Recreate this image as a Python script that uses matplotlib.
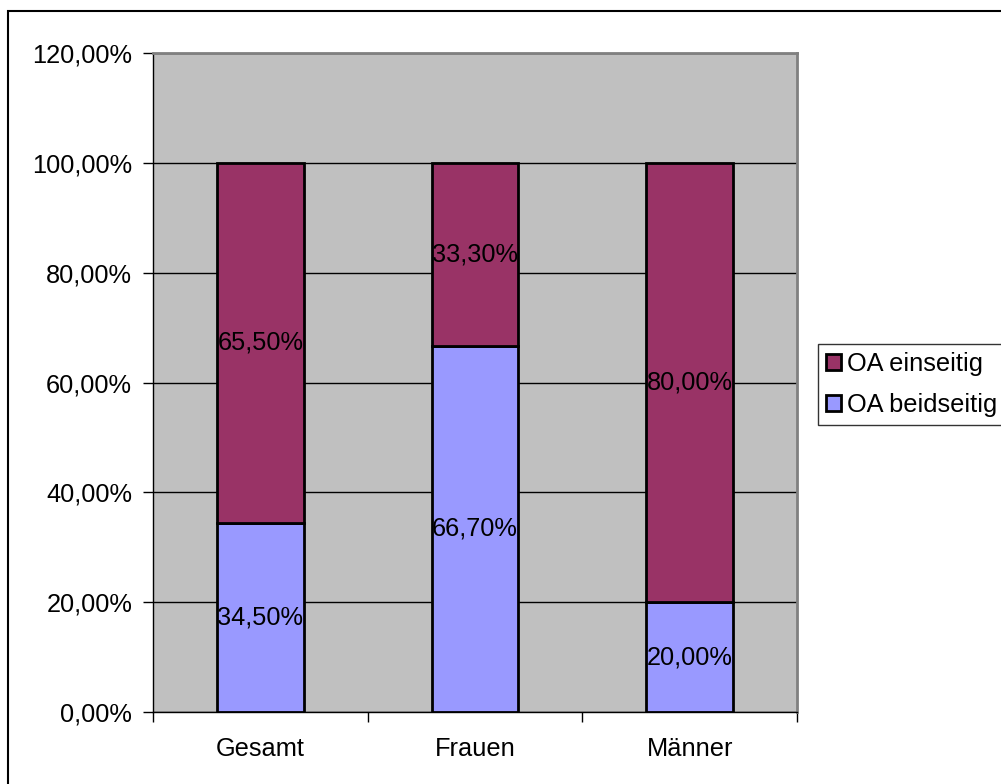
import matplotlib.pyplot as plt
from matplotlib.patches import Rectangle, Patch
from matplotlib.ticker import FixedLocator

plt.rcParams['font.family'] = ['Liberation Sans', 'DejaVu Sans']

# Data
categories = ['Gesamt', 'Frauen', 'Männer']
beidseitig = [34.5, 66.7, 20.0]
einseitig = [65.5, 33.3, 80.0]
y_ticks = [0, 20, 40, 60, 80, 100, 120]

c_beid = '#9999FF'
c_ein = '#993366'
fs = 18.3

W, H = 1001, 784
fig = plt.figure(figsize=(W / 100, H / 100), dpi=100)

# outer chart border
fig.patches.append(Rectangle((8 / W, -0.05), 1.1, 1 - 11 / H + 0.05,
                             transform=fig.transFigure, fill=False,
                             edgecolor='black', linewidth=1.5))

ax = fig.add_axes([153 / W, (H - 712) / H, (797 - 153) / W, (712 - 53) / H])
ax.set_facecolor('#C0C0C0')

x = range(len(categories))
bw = 0.405
ax.bar(x, beidseitig, bw, color=c_beid, edgecolor='black', linewidth=2, zorder=3)
ax.bar(x, einseitig, bw, bottom=beidseitig, color=c_ein, edgecolor='black',
       linewidth=2, zorder=3)

fmt = lambda v: f'{v:.2f}%'.replace('.', ',')
for i in x:
    ax.text(i, beidseitig[i] / 2, fmt(beidseitig[i]), ha='center', va='center',
            fontsize=fs, zorder=4)
    ax.text(i, beidseitig[i] + einseitig[i] / 2, fmt(einseitig[i]), ha='center',
            va='center', fontsize=fs, zorder=4)

ax.set_xlim(-0.5, 2.5)
ax.set_ylim(0, 120)
ax.set_yticks(y_ticks)
ax.set_yticklabels([fmt(v) for v in y_ticks], fontsize=fs)
ax.yaxis.grid(True, color='black', linewidth=1)
ax.set_axisbelow(True)

# category labels between boundary ticks
ax.xaxis.set_major_locator(FixedLocator([-0.5, 0.5, 1.5, 2.5]))
ax.set_xticklabels([])
ax.xaxis.set_minor_locator(FixedLocator(list(x)))
ax.set_xticklabels(categories, minor=True, fontsize=fs)
ax.tick_params(axis='x', which='minor', length=0, pad=18)
ax.tick_params(axis='x', which='major', length=7, width=1, direction='out')
ax.tick_params(axis='y', length=7, width=1, direction='out', pad=8)

for side in ['top', 'right']:
    ax.spines[side].set_color('#808080')
    ax.spines[side].set_linewidth(2)
for side in ['left', 'bottom']:
    ax.spines[side].set_color('black')
    ax.spines[side].set_linewidth(1)

handles = [Patch(facecolor=c_ein, edgecolor='black', linewidth=2, label='OA einseitig'),
           Patch(facecolor=c_beid, edgecolor='black', linewidth=2, label='OA beidseitig')]
leg = fig.legend(handles=handles, loc='upper left',
                 bbox_to_anchor=(818 / W, 1 - 344 / H), fontsize=fs,
                 frameon=True, fancybox=False, edgecolor='black',
                 handlelength=0.6, handleheight=0.6, handletextpad=0.25,
                 borderpad=0.3, labelspacing=0.68, borderaxespad=0)
leg.get_frame().set_linewidth(1)

fig.savefig('out.png', dpi=100, facecolor='white')
